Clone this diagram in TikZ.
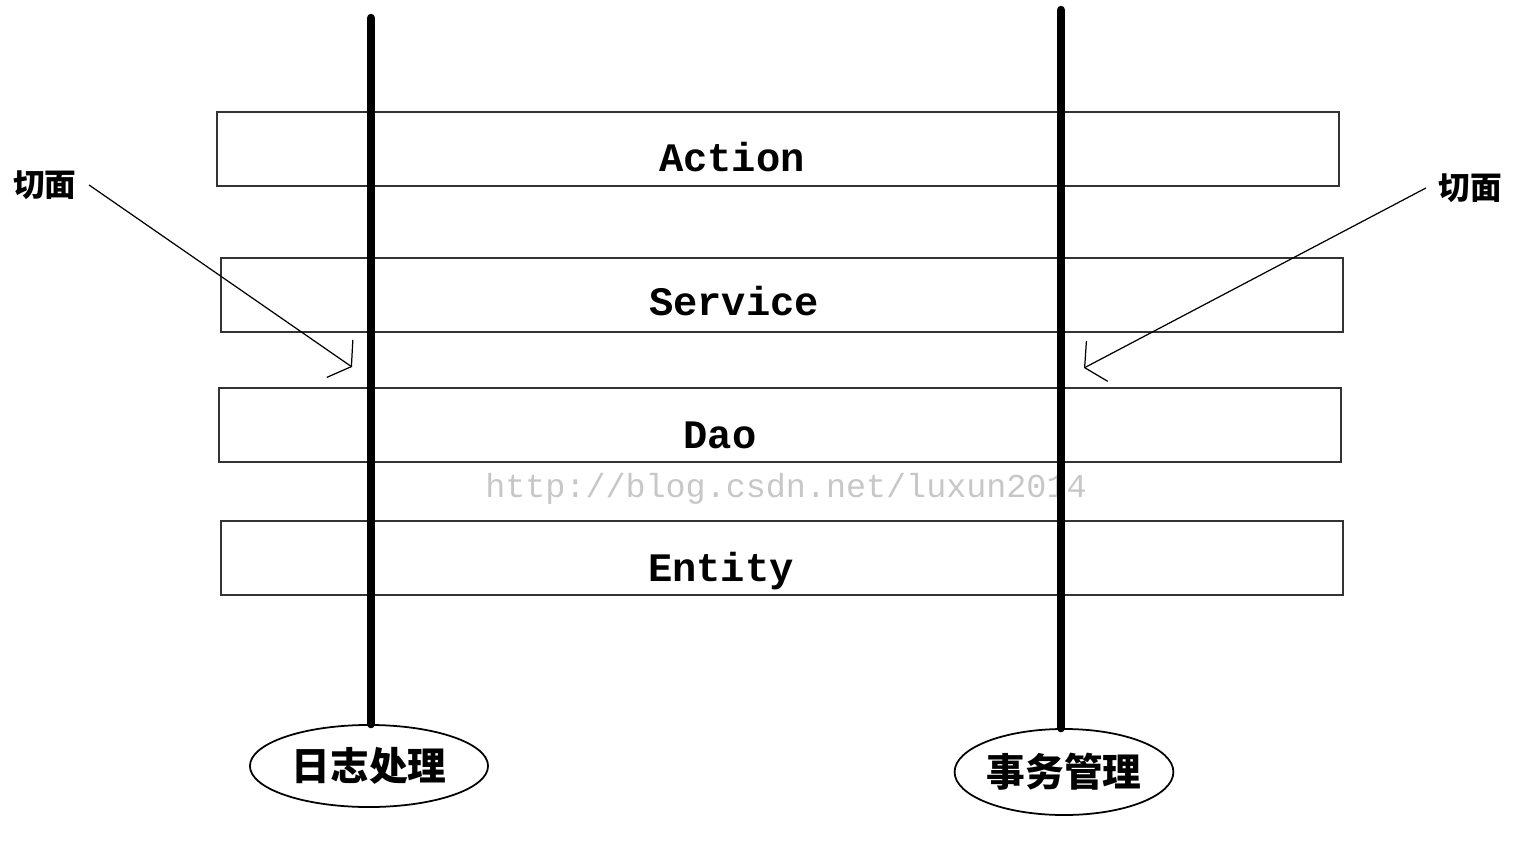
\documentclass[tikz,border=0pt]{standalone}
\usepackage{fontspec}
\usepackage{tikz}
\usetikzlibrary{shapes.geometric, arrows.meta, positioning}
\setmonofont{Liberation Mono}
\newfontfamily\cjk{Noto Sans CJK SC}
\tikzset{
x=0.01cm, y=-0.01cm, % one unit is one pixel of the sketch
layer/.style={draw=black!80, line width=0.6pt, minimum width=11.22cm, minimum height=0.74cm, inner sep=0pt}, % the horizontal layers
layertext/.style={font=\ttfamily\bfseries\fontsize{11.5}{12}\selectfont}, % names of the layers
aspect/.style={line width=2.4pt, line cap=round}, % the thick vertical lines
concern/.style={ellipse, draw, line width=0.5pt, inner sep=0pt, font=\cjk\bfseries\fontsize{11}{12}\selectfont}, % ellipses at the bottom
cut/.style={font=\cjk\bfseries\fontsize{9}{10}\selectfont}, % side labels
pointer/.style={line width=0.35pt, -{Straight Barb[length=4pt, width=13pt, line width=0.35pt]}},
}
\begin{document}
\begin{tikzpicture}
        \useasboundingbox (0,0) rectangle (1523,845);

        \node[layer] (action) at (778,149) {};
        \node[layer] (service) at (782,295) {};
        \node[layer] (dao) at (780,425) {};
        \node[layer] (entity) at (782,558) {};
        \node[layertext] (actiontext) at (732,157) {Action};
        \node[layertext] (servicetext) at (734,301) {Service};
        \node[layertext] (daotext) at (720,435) {Dao};
        \node[layertext] (entitytext) at (721,571) {Entity};

        % watermark
        \node[font=\ttfamily\fontsize{9.5}{10}\selectfont, text=black!22] (mark) at (786,489) {http://blog.csdn.net/luxun2014};

        \node[concern, minimum width=2.38cm, minimum height=0.82cm] (log) at (369,766) {日志处理};
        \node[concern, minimum width=2.11cm, minimum height=0.86cm] (tx) at (1064,772) {事务管理};

        \coordinate (logtop) at (371,18);
        \coordinate (txtop) at (1061,10);
        \draw[aspect] (logtop) -- (logtop |- log.north);
        \draw[aspect] (txtop) -- (txtop |- tx.north);

        \node[cut] (cutleft) at (45,185) {切面};
        \node[cut] (cutright) at (1470,188) {切面};
        \coordinate (tipleft) at (352,367);
        \coordinate (tipright) at (1084,368);
        \draw[pointer] (cutleft.east) -- (tipleft);
        \draw[pointer] (cutright.west) -- (tipright);
    \end{tikzpicture}
\end{document}
